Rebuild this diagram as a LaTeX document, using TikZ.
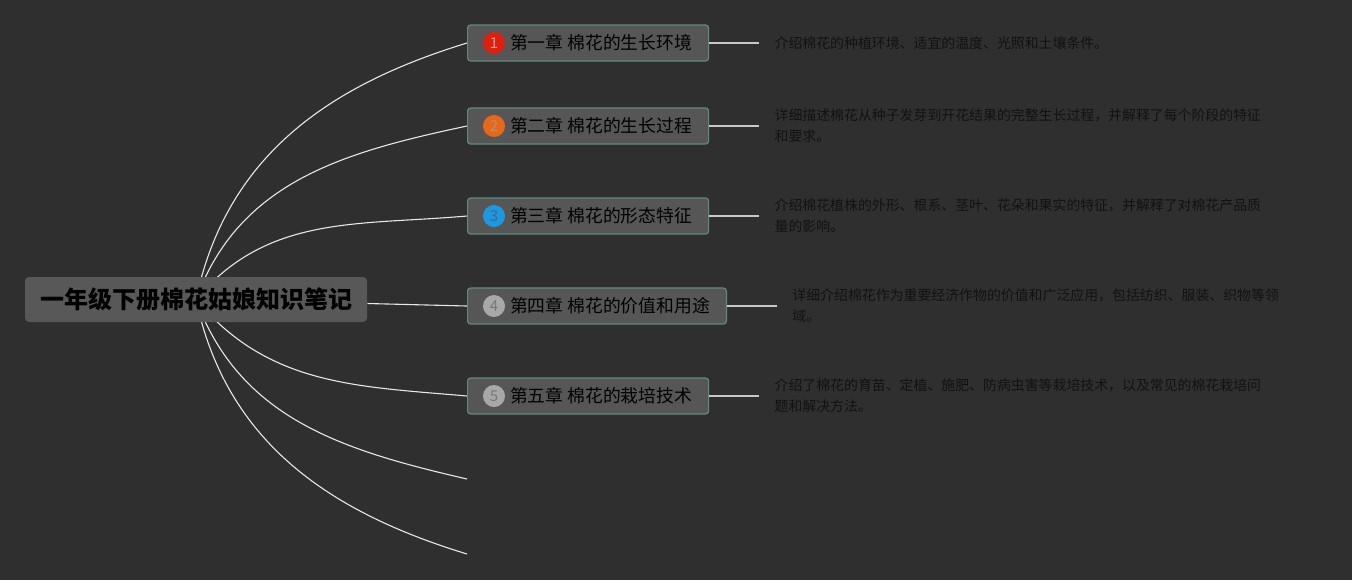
\documentclass[tikz,border=0pt]{standalone}
\usepackage{fontspec}
\setmainfont{Noto Sans CJK SC}
\usetikzlibrary{positioning}
\definecolor{canvasgray}{RGB}{47,47,47}
\definecolor{boxgray}{RGB}{86,86,86}
\definecolor{rootgray}{RGB}{88,88,88}
\definecolor{boxedge}{RGB}{96,140,124}
\definecolor{linkwhite}{RGB}{232,232,232}
\definecolor{stemgray}{RGB}{200,200,200}
\definecolor{desctext}{RGB}{18,18,18}
\definecolor{badgered}{RGB}{222,32,16}
\definecolor{badgeorange}{RGB}{232,104,26}
\definecolor{badgeblue}{RGB}{28,152,224}
\definecolor{badgegray}{RGB}{168,168,168}
\definecolor{numred}{RGB}{245,150,140}
\definecolor{numorange}{RGB}{175,145,125}
\definecolor{numblue}{RGB}{62,104,140}
\definecolor{numgray}{RGB}{120,120,120}
\pgfdeclarelayer{canvas}
\pgfdeclarelayer{links}
\pgfsetlayers{canvas,links,main}

\begin{document}
\begin{tikzpicture}[x=0.5pt,y=0.5pt,
  rootbox/.style={fill=rootgray,rounded corners=2pt,minimum width=171pt,minimum height=22.5pt,font=\fontsize{12}{14}\selectfont\bfseries,text=black},
  chapter/.style={fill=boxgray,draw=boxedge,line width=0.6pt,rounded corners=1.5pt,minimum height=18pt,inner xsep=8.25pt,inner ysep=0pt,font=\fontsize{8.9}{10}\selectfont,text=black,anchor=west},
  badge/.style={circle,inner sep=0pt,minimum size=11pt,font=\fontsize{7.5}{8}\selectfont},
  desc/.style={align=left,inner xsep=7.5pt,inner ysep=0pt,font=\fontsize{6.95}{10.5}\selectfont,text=desctext},
  link/.style={linkwhite,line width=0.55pt},
  stem/.style={stemgray,line width=0.8pt}]
% backdrop
\begin{pgfonlayer}{canvas}
\fill[canvasgray] (0,0) rectangle (1352,-580);
\end{pgfonlayer}
% central topic
\node[rootbox] (root) at (196,-299.5) {一年级下册棉花姑娘知识笔记};
% chapters
\node[chapter] (ch1) at (467,-43) {\hspace{13pt}第一章 棉花的生长环境};
\node[chapter] (ch2) at (467,-126) {\hspace{13pt}第二章 棉花的生长过程};
\node[chapter] (ch3) at (467,-216) {\hspace{13pt}第三章 棉花的形态特征};
\node[chapter] (ch4) at (467,-306) {\hspace{13pt}第四章 棉花的价值和用途};
\node[chapter] (ch5) at (467,-396) {\hspace{13pt}第五章 棉花的栽培技术};
\node[badge,fill=badgered,text=numred] (n1) at ([xshift=13.5pt]ch1.west) {1};
\node[badge,fill=badgeorange,text=numorange] (n2) at ([xshift=13.5pt]ch2.west) {2};
\node[badge,fill=badgeblue,text=numblue] (n3) at ([xshift=13.5pt]ch3.west) {3};
\node[badge,fill=badgegray,text=numgray] (n4) at ([xshift=13.5pt]ch4.west) {4};
\node[badge,fill=badgegray,text=numgray] (n5) at ([xshift=13.5pt]ch5.west) {5};
% notes
\node[desc,right=25pt of ch1] (d1) {介绍棉花的种植环境、适宜的温度、光照和土壤条件。};
\node[desc,right=25pt of ch2] (d2) {详细描述棉花从种子发芽到开花结果的完整生长过程，并解释了每个阶段的特征\\和要求。};
\node[desc,right=25pt of ch3] (d3) {介绍棉花植株的外形、根系、茎叶、花朵和果实的特征，并解释了对棉花产品质\\量的影响。};
\node[desc,right=25pt of ch4] (d4) {详细介绍棉花作为重要经济作物的价值和广泛应用，包括纺织、服装、织物等领\\域。};
\node[desc,right=25pt of ch5] (d5) {介绍了棉花的育苗、定植、施肥、防病虫害等栽培技术，以及常见的棉花栽培问\\题和解决方法。};
\coordinate (end6) at (467,-479);
\coordinate (end7) at (467,-554);
\foreach \i in {1,...,5}{\draw[stem] (ch\i.east) -- (d\i.west);}
% branches
\begin{pgfonlayer}{links}
\draw[link] (root.center) to[out=78,in=197] (ch1.west);
\draw[link] (root.center) to[out=70,in=192] (ch2.west);
\draw[link] (root.center) to[out=50,in=185] (ch3.west);
\draw[link] ([yshift=-2pt]root.east) -- (ch4.west);
\draw[link] (root.center) to[out=-50,in=175] (ch5.west);
\draw[link] (root.center) to[out=-70,in=167] (end6);
\draw[link] (root.center) to[out=-78,in=163] (end7);
\end{pgfonlayer}
\end{tikzpicture}
\end{document}
